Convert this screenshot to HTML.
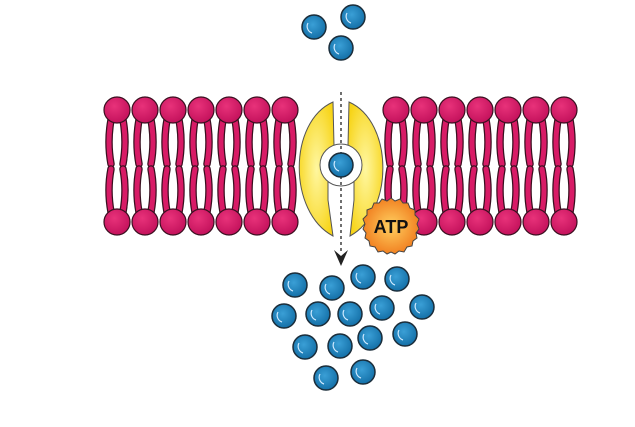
<!DOCTYPE html>
<html><head><meta charset="utf-8"><style>html,body{margin:0;padding:0;background:#fff;}svg{display:block}</style></head>
<body>
<svg width="635" height="427" viewBox="0 0 635 427" xmlns="http://www.w3.org/2000/svg">
<defs>
<radialGradient id="b" cx="0.45" cy="0.4" r="0.6"><stop offset="0" stop-color="#3a9fd6"/><stop offset="1" stop-color="#1470a8"/></radialGradient>
<radialGradient id="p" cx="0.4" cy="0.35" r="0.65"><stop offset="0" stop-color="#e8327a"/><stop offset="1" stop-color="#c4125c"/></radialGradient>
<radialGradient id="y" cx="0.5" cy="0.5" r="0.6"><stop offset="0" stop-color="#fff7a0"/><stop offset="1" stop-color="#f7d417"/></radialGradient>
<radialGradient id="o" cx="0.5" cy="0.5" r="0.55"><stop offset="0" stop-color="#ffd060"/><stop offset="1" stop-color="#f07a1c"/></radialGradient>
<g id="ball"><circle r="12" fill="url(#b)" stroke="#1b2d3a" stroke-width="1.5"/><path d="M-6,-4 A7,7 0 0 0 -2,6" fill="none" stroke="#cfeaff" stroke-width="1.2"/></g>
<g id="lip">
<path d="M-6,10 Q-10,32 -6,54" fill="none" stroke="#3a1020" stroke-width="7.5" stroke-linecap="round"/>
<path d="M-6,10 Q-10,32 -6,54" fill="none" stroke="#d81b66" stroke-width="5" stroke-linecap="round"/>
<path d="M6,10 Q10,32 6,54" fill="none" stroke="#3a1020" stroke-width="7.5" stroke-linecap="round"/>
<path d="M6,10 Q10,32 6,54" fill="none" stroke="#d81b66" stroke-width="5" stroke-linecap="round"/>
<path d="M-6,59 Q-10,80 -6,102" fill="none" stroke="#3a1020" stroke-width="7.5" stroke-linecap="round"/>
<path d="M-6,59 Q-10,80 -6,102" fill="none" stroke="#d81b66" stroke-width="5" stroke-linecap="round"/>
<path d="M6,59 Q10,80 6,102" fill="none" stroke="#3a1020" stroke-width="7.5" stroke-linecap="round"/>
<path d="M6,59 Q10,80 6,102" fill="none" stroke="#d81b66" stroke-width="5" stroke-linecap="round"/>
<circle cx="0" cy="0" r="13" fill="url(#p)" stroke="#3a1020" stroke-width="1.2"/>
<circle cx="0" cy="112" r="13" fill="url(#p)" stroke="#3a1020" stroke-width="1.2"/>
</g>
</defs>
<g transform="translate(0,110)">
<use href="#lip" x="117"/><use href="#lip" x="145"/><use href="#lip" x="173"/><use href="#lip" x="201"/><use href="#lip" x="229"/><use href="#lip" x="257"/><use href="#lip" x="285"/>
<use href="#lip" x="396"/><use href="#lip" x="424"/><use href="#lip" x="452"/><use href="#lip" x="480"/><use href="#lip" x="508"/><use href="#lip" x="536"/><use href="#lip" x="564"/>
</g>
<path d="M333,102 C288,122 288,212 333,236 L328,200 L328,182 L334,146 Z" fill="url(#y)" stroke="#555" stroke-width="1"/>
<path d="M349,102 C394,122 394,212 350,236 L354,200 L354,182 L348,146 Z" fill="url(#y)" stroke="#555" stroke-width="1"/>
<circle cx="341" cy="165" r="21" fill="#fff" stroke="#555" stroke-width="1"/>
<line x1="341" y1="92" x2="341" y2="252" stroke="#222" stroke-width="1.3" stroke-dasharray="3,3"/>
<path d="M334,250 L341,256 L348,250 L341,266 Z" fill="#222"/>
<use href="#ball" x="341" y="165"/>
<g transform="translate(391,226)">
<path d="M0,-28 L4,-25 L9,-27 L12,-23 L17,-23 L19,-18 L24,-16 L24,-11 L28,-7 L26,-2 L28,3 L25,7 L26,12 L22,15 L21,20 L16,21 L13,26 L8,25 L4,28 L0,26 L-4,28 L-8,25 L-13,26 L-16,21 L-21,20 L-22,15 L-26,12 L-25,7 L-28,3 L-26,-2 L-28,-7 L-24,-11 L-24,-16 L-19,-18 L-17,-23 L-12,-23 L-9,-27 L-4,-25 Z" fill="url(#o)" stroke="#444" stroke-width="1"/>
<text x="0" y="7" text-anchor="middle" font-family="Liberation Sans, sans-serif" font-weight="bold" font-size="18" fill="#111">ATP</text>
</g>
<use href="#ball" x="314" y="27"/><use href="#ball" x="353" y="17"/><use href="#ball" x="341" y="48"/>
<use href="#ball" x="295" y="285"/><use href="#ball" x="332" y="288"/><use href="#ball" x="363" y="277"/><use href="#ball" x="397" y="279"/>
<use href="#ball" x="284" y="316"/><use href="#ball" x="318" y="314"/><use href="#ball" x="350" y="314"/><use href="#ball" x="382" y="308"/><use href="#ball" x="422" y="307"/>
<use href="#ball" x="305" y="347"/><use href="#ball" x="340" y="346"/><use href="#ball" x="370" y="338"/><use href="#ball" x="405" y="334"/>
<use href="#ball" x="326" y="378"/><use href="#ball" x="363" y="372"/>
</svg>
</body></html>
